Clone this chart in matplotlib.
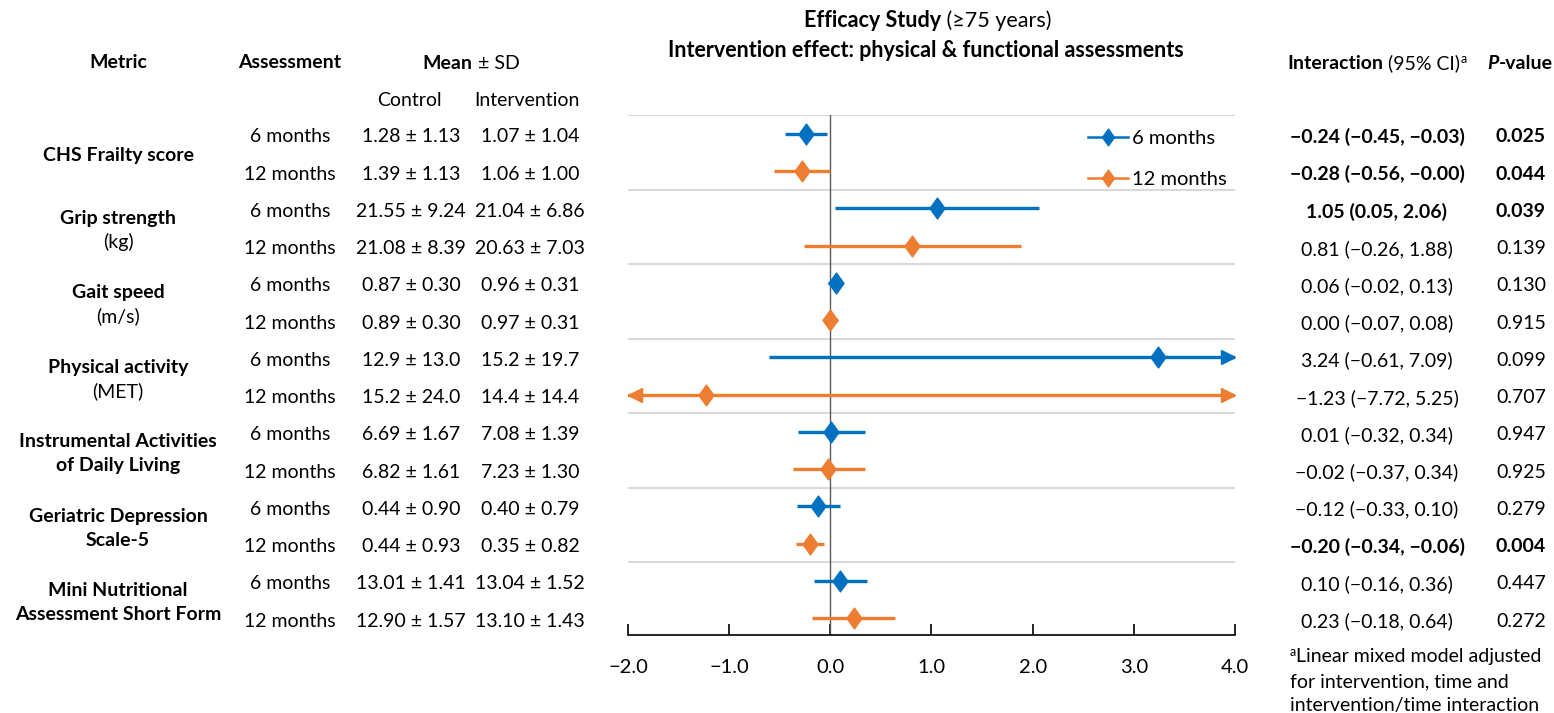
import numpy as np
import matplotlib.pyplot as plt
from matplotlib.lines import Line2D
from matplotlib.path import Path

plt.rcParams['font.family'] = ['Lato', 'DejaVu Sans']
plt.rcParams['font.size'] = 14

# ---- data ----
metric_top = ['CHS Frailty score', 'Grip strength', 'Gait speed', 'Physical activity',
              'Instrumental Activities', 'Geriatric Depression', 'Mini Nutritional']
metric_bottom = ['', '(kg)', '(m/s)', '(MET)', 'of Daily Living', 'Scale-5',
                 'Assessment Short Form']
metric_bottom_bold = [False, False, False, False, True, True, True]
assessments = ['6 months', '12 months']

control_6 = ['1.28 ± 1.13', '21.55 ± 9.24', '0.87 ± 0.30', '12.9 ± 13.0', '6.69 ± 1.67', '0.44 ± 0.90', '13.01 ± 1.41']
interv_6 = ['1.07 ± 1.04', '21.04 ± 6.86', '0.96 ± 0.31', '15.2 ± 19.7', '7.08 ± 1.39', '0.40 ± 0.79', '13.04 ± 1.52']
control_12 = ['1.39 ± 1.13', '21.08 ± 8.39', '0.89 ± 0.30', '15.2 ± 24.0', '6.82 ± 1.61', '0.44 ± 0.93', '12.90 ± 1.57']
interv_12 = ['1.06 ± 1.00', '20.63 ± 7.03', '0.97 ± 0.31', '14.4 ± 14.4', '7.23 ± 1.30', '0.35 ± 0.82', '13.10 ± 1.43']

est_6 = [-0.24, 1.05, 0.06, 3.24, 0.01, -0.12, 0.10]
lo_6 = [-0.45, 0.05, -0.02, -0.61, -0.32, -0.33, -0.16]
hi_6 = [-0.03, 2.06, 0.13, 7.09, 0.34, 0.10, 0.36]
p_6 = ['0.025', '0.039', '0.130', '0.099', '0.947', '0.279', '0.447']

est_12 = [-0.28, 0.81, 0.00, -1.23, -0.02, -0.20, 0.23]
lo_12 = [-0.56, -0.26, -0.07, -7.72, -0.37, -0.34, -0.18]
hi_12 = [-0.0, 1.88, 0.08, 5.25, 0.34, -0.06, 0.64]
p_12 = ['0.044', '0.139', '0.915', '0.707', '0.925', '0.004', '0.272']

blue = '#0070C0'
orange = '#ED7D31'
W, H = 1554, 713
xmin, xmax = -2.0, 4.0

fig = plt.figure(figsize=(W / 100, H / 100), dpi=100)
ax = fig.add_axes([628 / W, (H - 635) / H, (1235 - 628) / W, (635 - 115) / H])
ax.set_xlim(xmin, xmax)
ax.set_ylim(13.45, -0.51)

diamond = Path([(0, 1), (0.72, 0), (0, -1), (-0.72, 0), (0, 1)],
               [Path.MOVETO, Path.LINETO, Path.LINETO, Path.LINETO, Path.CLOSEPOLY])

# separators and zero line
for yy in [-0.5, 1.5, 3.5, 5.5, 7.5, 9.5, 11.5]:
    ax.axhline(yy, color='#d9d9d9', lw=1.5, zorder=1)
ax.axvline(0, color='#595959', lw=1, zorder=2)

n = len(metric_top)
rows6 = np.arange(n) * 2
rows12 = rows6 + 1
for rows, est, lo, hi, col in [(rows6, est_6, lo_6, hi_6, blue), (rows12, est_12, lo_12, hi_12, orange)]:
    ax.hlines(rows, lo, hi, color=col, lw=2.4, zorder=3)
    ax.plot(est, rows, ls='none', marker=diamond, markersize=15, color=col, zorder=4)
    # arrowheads where the CI runs past the axis
    for r, l, h in zip(rows, lo, hi):
        if h > xmax:
            ax.plot(xmax - 0.065, r, marker='>', markersize=10, color=col, clip_on=False, zorder=4)
        if l < xmin:
            ax.plot(xmin + 0.065, r, marker='<', markersize=10, color=col, clip_on=False, zorder=4)

for s in ['top', 'right', 'left']:
    ax.spines[s].set_visible(False)
ax.spines['bottom'].set_linewidth(1.2)
ax.set_yticks([])
ticks = np.arange(-2, 4.1, 1)
ax.set_xticks(ticks)
ax.set_xticklabels([f'{t:.1f}'.replace('-', '\u2212') for t in ticks], fontsize=14.5)
ax.tick_params(axis='x', direction='in', length=8, width=1.2, pad=17)

handles = [Line2D([], [], color=blue, lw=1.8, marker=diamond, markersize=12, label='6 months'),
           Line2D([], [], color=orange, lw=1.8, marker=diamond, markersize=12, label='12 months')]
fig.legend(handles=handles, loc='upper left', bbox_to_anchor=(1078 / W, 1 - 120 / H),
           frameon=False, handlelength=2.0, handletextpad=0.2, labelspacing=1.2,
           borderpad=0, fontsize=14.5)

# ---- text helpers (pixel coordinates, y from top) ----
renderer = fig.canvas.get_renderer()


def put(x, y, s, **kw):
    kw.setdefault('ha', 'center')
    kw.setdefault('va', 'center')
    return fig.text(x / W, 1 - y / H, s, **kw)


def rich(x, y, parts, ha='center'):
    # parts: (text, props, raise_px); y is the baseline
    texts, widths = [], []
    for s, props, dy in parts:
        t = fig.text(0, 0, s, va='baseline', ha='left', **props)
        widths.append(t.get_window_extent(renderer).width)
        texts.append((t, dy))
    total = sum(widths)
    x0 = x - total / 2 if ha == 'center' else x
    for (t, dy), w in zip(texts, widths):
        t.set_position((x0 / W, 1 - (y - dy) / H))
        x0 += w


def row_y(r):
    return H - ax.transData.transform((0, r))[1] + 3


B = dict(weight='bold')
N = dict()
T = 15.5

# titles
rich(928, 27, [('Efficacy Study', dict(weight='bold', fontsize=T), 0), (' (≥75 years)', dict(fontsize=T), 0)])
rich(926, 57, [('Intervention effect: physical & functional assessments', dict(weight='bold', fontsize=T), 0)])

# headers
put(118, 63, 'Metric', weight='bold')
put(290, 63, 'Assessment', weight='bold')
rich(471, 69, [('Mean', B, 0), (' ± SD', N, 0)])
put(409, 101, 'Control')
put(527, 101, 'Intervention')
rich(1377, 69, [('Interaction', B, 0), (' (95% CI)', N, 0), ('a', dict(fontsize=9), 6)])
rich(1520, 69, [('P', dict(weight='bold', style='italic'), 0), ('-value', B, 0)])

# table rows
for i in range(n):
    y6, y12 = row_y(rows6[i]), row_y(rows12[i])
    mid = (y6 + y12) / 2
    if metric_bottom[i]:
        put(118, mid - 12, metric_top[i], weight='bold')
        put(118, mid + 12, metric_bottom[i], weight='bold' if metric_bottom_bold[i] else 'normal')
    else:
        put(118, mid, metric_top[i], weight='bold')
    for yy, lab, ctl, itv, est, lo, hi, p in [
            (y6, assessments[0], control_6[i], interv_6[i], est_6[i], lo_6[i], hi_6[i], p_6[i]),
            (y12, assessments[1], control_12[i], interv_12[i], est_12[i], lo_12[i], hi_12[i], p_12[i])]:
        put(290, yy, lab)
        put(411, yy, ctl)
        put(530, yy, itv)
        txt = f'{est:.2f} ({lo:.2f}, {hi:.2f})'.replace('-', '\u2212')
        w = 'bold' if float(p) < 0.05 else 'normal'
        put(1377, yy, txt, weight=w)
        put(1521, yy, p, weight=w)

# footnote
rich(1290, 662, [('a', dict(fontsize=9), 6), ('Linear mixed model adjusted', N, 0)], ha='left')
rich(1290, 687, [('for intervention, time and', N, 0)], ha='left')
rich(1290, 711, [('intervention/time interaction', N, 0)], ha='left')

fig.savefig('out.png', dpi=100)
